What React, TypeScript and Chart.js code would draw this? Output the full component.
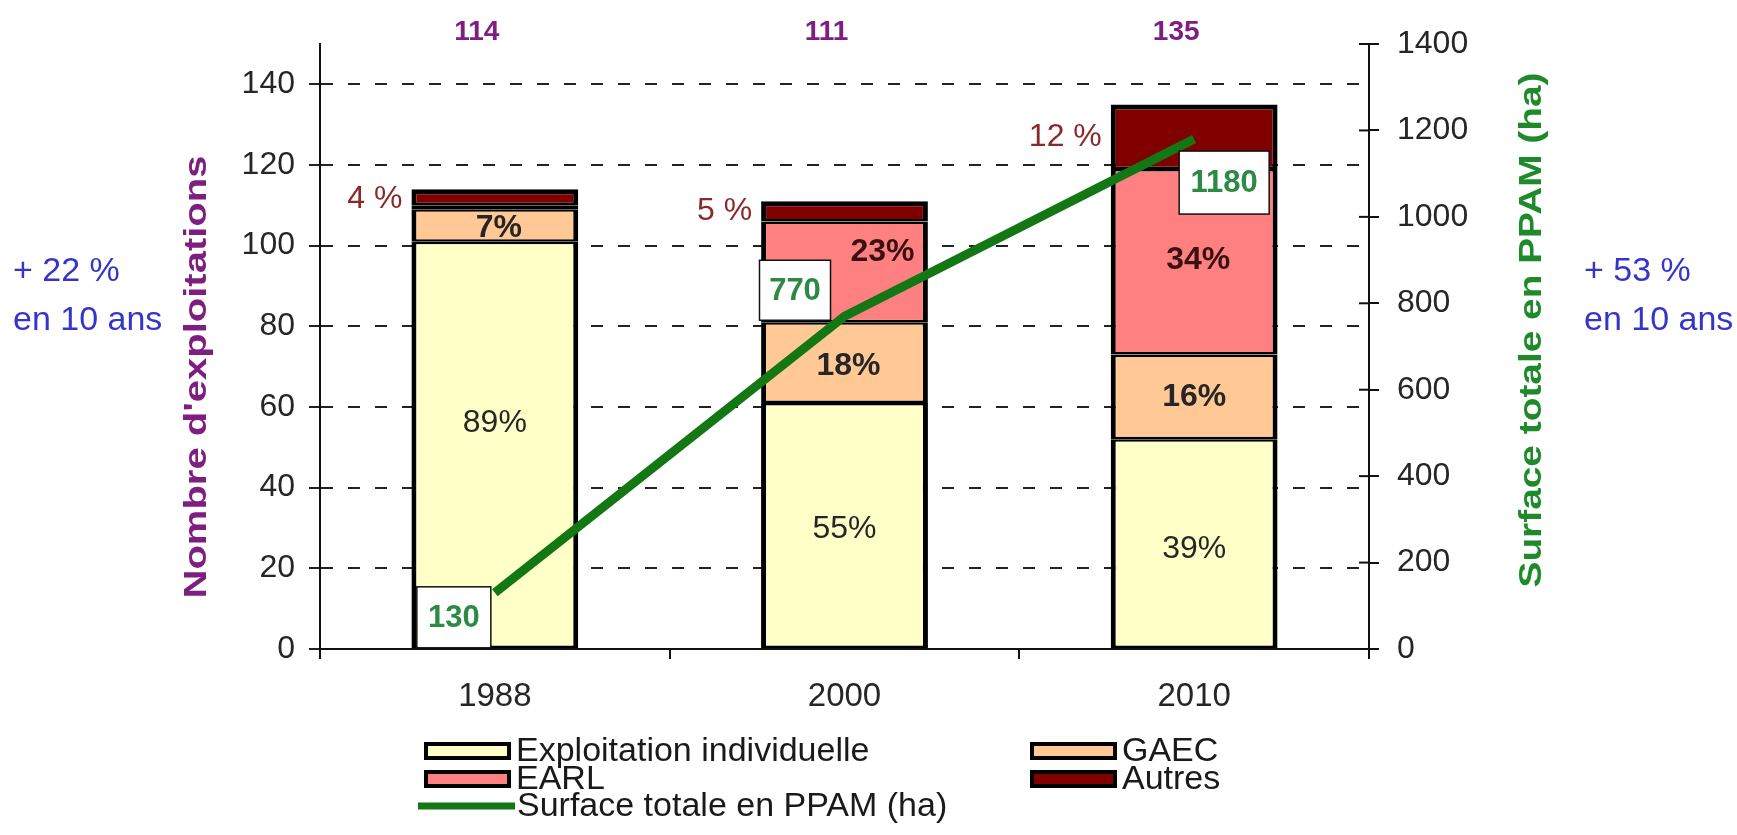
import React, { useEffect, useRef } from 'react';
import { Chart, registerables } from 'chart.js';

Chart.register(...registerables);

// ---------- data ----------
const years = ['1988', '2000', '2010'];
const individuelle = [101, 61, 52];
const gaec = [8, 20, 21];
const earl = [1, 25, 46];
const autres = [4, 5, 16];
const surface = [130, 770, 1180];
const totals = ['114', '111', '135'];
const pctIndividuelle = ['89%', '55%', '39%'];
const pctGaec = ['7%', '18%', '16%'];
const pctEarl = ['', '23%', '34%'];
const pctAutres = ['4 %', '5 %', '12 %'];
const leftNote = ['+ 22 %', 'en 10 ans'];
const rightNote = ['+ 53 %', 'en 10 ans'];

// ---------- styles ----------
const FONT = '"Liberation Sans", Arial, sans-serif';
const C_IND = '#FFFFC8';
const C_GAEC = '#FFC895';
const C_EARL = '#FF8080';
const C_AUT = '#800000';
const C_LINE = '#137813';
const C_PURPLE = '#7E1F80';
const C_GREEN_T = '#1E8A2A';
const C_VAL = '#2C8A45';
const C_BLUE = '#3535CC';
const C_TICK = '#262626';

const LEFT_PAD = 150;
const Y_WIDTH = 170;
const Y1_WIDTH = 200;
const RIGHT_PAD = 168;
const TOP_PAD = 44;
const X_HEIGHT = 186;

const innerLabelOffsets = [
  // [dataset][category] = [dx, dy]
  [[0, -22], [0, 4], [0, 6]],
  [[4, 3], [4, 4], [0, 0]],
  [[0, 0], [38, -20], [4, -2]],
];
const boxGeom = [
  { dx: -78, dy: -6, w: 74, h: 61 },
  { dx: -85, dy: -56, w: 71, h: 60 },
  { dx: -15, dy: 12, w: 90, h: 63 },
];

function drawStretched(ctx: CanvasRenderingContext2D, text: string, x: number, y: number, font: string, color: string, targetLen: number, rot: number) {
  ctx.save();
  ctx.font = font;
  ctx.fillStyle = color;
  const w = ctx.measureText(text).width;
  ctx.translate(x, y);
  ctx.rotate(rot);
  ctx.scale(targetLen / w, 1);
  ctx.textAlign = 'center';
  ctx.textBaseline = 'middle';
  ctx.fillText(text, 0, 0);
  ctx.restore();
}

const annotPlugin = {
  id: 'annot',
  afterDatasetsDraw(chart: any) {
    const ctx: CanvasRenderingContext2D = chart.ctx;
    const labelSets = [pctIndividuelle, pctGaec, pctEarl];
    ctx.save();
    ctx.textAlign = 'center';
    ctx.textBaseline = 'middle';
    for (let d = 0; d < 3; d++) {
      const meta = chart.getDatasetMeta(d);
      meta.data.forEach((bar: any, i: number) => {
        const t = labelSets[d][i];
        if (!t) return;
        const cx = bar.x + innerLabelOffsets[d][i][0];
        const cy = (bar.y + bar.base) / 2 + innerLabelOffsets[d][i][1];
        ctx.font = (d === 0 ? 'normal ' : 'bold ') + '32px ' + FONT;
        ctx.fillStyle = d === 2 ? '#3A1010' : '#262626';
        ctx.fillText(t, cx, cy);
      });
    }
    // Autres percentages left of bars
    const metaA = chart.getDatasetMeta(3);
    metaA.data.forEach((bar: any, i: number) => {
      ctx.font = '32px ' + FONT;
      ctx.fillStyle = '#8A2A2A';
      ctx.textAlign = 'right';
      ctx.fillText(pctAutres[i], bar.x - bar.width / 2 - 9, Math.max((bar.y + bar.base) / 2, bar.y + 10));
      // totals on top
      ctx.font = 'bold 28px ' + FONT;
      ctx.fillStyle = C_PURPLE;
      ctx.textAlign = 'center';
      ctx.fillText(totals[i], bar.x - 18, chart.chartArea.top - 12);
    });
    // value boxes
    const metaL = chart.getDatasetMeta(4);
    metaL.data.forEach((pt: any, i: number) => {
      const g = boxGeom[i];
      const bx = pt.x + g.dx;
      const by = pt.y + g.dy;
      ctx.fillStyle = '#FFFFFF';
      ctx.fillRect(bx, by, g.w, g.h);
      ctx.lineWidth = 1.5;
      ctx.strokeStyle = '#111';
      ctx.strokeRect(bx, by, g.w, g.h);
      ctx.font = 'bold 31px ' + FONT;
      ctx.fillStyle = C_VAL;
      ctx.textAlign = 'center';
      ctx.fillText(String(surface[i]), bx + g.w / 2, by + g.h / 2 + 1);
    });
    ctx.restore();
  },
  afterDraw(chart: any) {
    const ctx: CanvasRenderingContext2D = chart.ctx;
    const area = chart.chartArea;
    ctx.save();
    // inner tick marks on the right axis
    const y1 = chart.scales.y1;
    ctx.strokeStyle = '#111';
    ctx.lineWidth = 2;
    y1.ticks.forEach((t: any) => {
      const py = y1.getPixelForValue(t.value);
      ctx.beginPath();
      ctx.moveTo(area.right - 10, py);
      ctx.lineTo(area.right, py);
      ctx.stroke();
    });
    // axis titles
    drawStretched(ctx, "Nombre d'exploitations", 197, 377, 'bold 31px ' + FONT, C_PURPLE, 443, -Math.PI / 2);
    drawStretched(ctx, 'Surface totale en PPAM (ha)', 1532, 330, 'bold 31px ' + FONT, C_GREEN_T, 515, -Math.PI / 2);

    // legend
    const items = [
      { t: 'Exploitation individuelle', c: C_IND, x: 424, y: 751, line: false },
      { t: 'GAEC', c: C_GAEC, x: 1030, y: 751, line: false },
      { t: 'EARL', c: C_EARL, x: 424, y: 779, line: false },
      { t: 'Autres', c: C_AUT, x: 1030, y: 779, line: false },
      { t: 'Surface totale en PPAM (ha)', c: C_LINE, x: 418, y: 806, line: true },
    ];
    ctx.textAlign = 'left';
    ctx.textBaseline = 'middle';
    items.forEach((it) => {
      if (it.line) {
        ctx.strokeStyle = it.c;
        ctx.lineWidth = 7;
        ctx.beginPath();
        ctx.moveTo(it.x, it.y);
        ctx.lineTo(it.x + 97, it.y);
        ctx.stroke();
      } else {
        ctx.fillStyle = '#000';
        ctx.fillRect(it.x, it.y - 9, 87, 18);
        ctx.fillStyle = it.c;
        ctx.fillRect(it.x + 4, it.y - 5, 79, 10);
      }
      ctx.font = '34px ' + FONT;
      ctx.fillStyle = '#1A1A1A';
      ctx.fillText(it.t, it.line ? it.x + 99 : it.x + 92, it.y + 1);
    });

    // side notes
    ctx.font = '34px ' + FONT;
    ctx.fillStyle = C_BLUE;
    ctx.fillText(leftNote[0], 13, 272);
    ctx.fillText(leftNote[1], 13, 321);
    ctx.fillText(rightNote[0], 1584, 272);
    ctx.fillText(rightNote[1], 1584, 321);
    ctx.restore();
  },
};

export default function App() {
  const ref = useRef<HTMLCanvasElement | null>(null);
  useEffect(() => {
    document.body.style.margin = '0';
    const canvas = ref.current!;
    const barCommon = {
      borderColor: '#000000',
      borderSkipped: false,
      barPercentage: 0.477,
      categoryPercentage: 1,
      yAxisID: 'y',
      order: 2,
    };
    const chart = new Chart(canvas, {
      type: 'bar',
      data: {
        labels: years,
        datasets: [
          { ...barCommon, label: 'Exploitation individuelle', data: individuelle, backgroundColor: C_IND, borderWidth: { top: 2.5, bottom: 2.5, left: 5, right: 5 } },
          { ...barCommon, label: 'GAEC', data: gaec, backgroundColor: C_GAEC, borderWidth: { top: 2.5, bottom: 2.5, left: 5, right: 5 } },
          { ...barCommon, label: 'EARL', data: earl, backgroundColor: C_EARL, borderWidth: { top: 2.5, bottom: 2.5, left: 5, right: 5 } },
          { ...barCommon, label: 'Autres', data: autres, backgroundColor: C_AUT, borderWidth: { top: 5, bottom: 2.5, left: 5, right: 5 } },
          {
            type: 'line',
            label: 'Surface totale en PPAM (ha)',
            data: surface,
            yAxisID: 'y1',
            borderColor: C_LINE,
            borderWidth: 9,
            pointRadius: 0,
            tension: 0,
            order: 1,
          } as any,
        ],
      },
      options: {
        responsive: false,
        animation: false,
        devicePixelRatio: 1,
        layout: { padding: { left: LEFT_PAD, right: RIGHT_PAD, top: TOP_PAD, bottom: 0 } },
        plugins: { legend: { display: false }, tooltip: { enabled: false }, title: { display: false } },
        scales: {
          x: {
            stacked: true,
            offset: true,
            grid: { display: true, drawOnChartArea: false, drawTicks: true, tickLength: 10, color: '#111', lineWidth: 2, offset: true },
            border: { display: true, color: '#111', width: 2 },
            ticks: { color: C_TICK, font: { family: FONT, size: 33 }, padding: 18 },
            afterFit: (s: any) => { s.height = X_HEIGHT; },
          },
          y: {
            stacked: true,
            position: 'left',
            min: 0,
            max: 150,
            ticks: { stepSize: 20, color: C_TICK, font: { family: FONT, size: 32 }, padding: 14 },
            afterBuildTicks: (s: any) => { s.ticks = s.ticks.filter((t: any) => t.value <= 140); },
            grid: { color: '#222', lineWidth: 2, tickLength: 11, drawTicks: true },
            border: { display: true, color: '#111', width: 2, dash: [12, 15] },
            afterFit: (s: any) => { s.width = Y_WIDTH; },
          },
          y1: {
            position: 'right',
            min: 0,
            max: 1400,
            ticks: { stepSize: 200, color: C_TICK, font: { family: FONT, size: 32 }, padding: 18, callback: (v: any) => String(v) },
            grid: { drawOnChartArea: false, drawTicks: true, tickLength: 10, color: '#111', lineWidth: 2 },
            border: { display: true, color: '#111', width: 2 },
            afterFit: (s: any) => { s.width = Y1_WIDTH; },
          },
        },
      },
      plugins: [annotPlugin],
    } as any);
    return () => chart.destroy();
  }, []);
  return <canvas ref={ref} width={1737} height={835} style={{ display: 'block', width: 1737, height: 835 }} />;
}
